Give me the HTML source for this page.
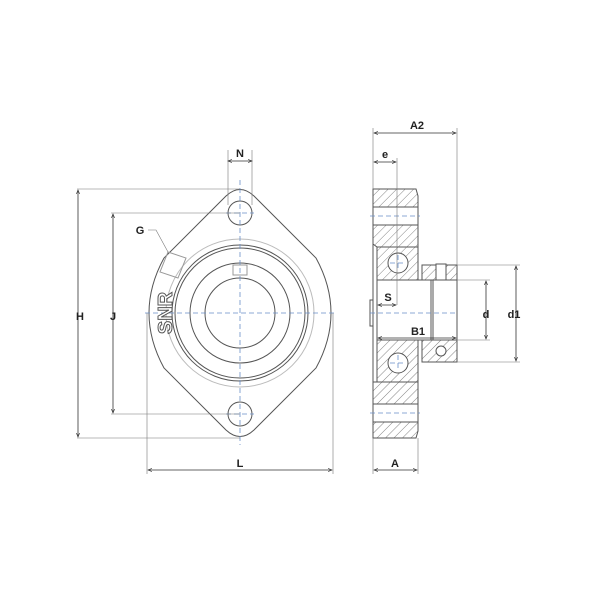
<!DOCTYPE html>
<html><head><meta charset="utf-8"><style>
html,body{margin:0;padding:0;background:#fff;}
svg{display:block;}
text{font-family:"Liberation Sans",sans-serif;font-weight:bold;font-size:11px;fill:#222;}
</style></head><body>
<svg width="600" height="600" viewBox="0 0 600 600" xmlns="http://www.w3.org/2000/svg">
<defs>
<pattern id="h" patternUnits="userSpaceOnUse" width="6" height="6" patternTransform="rotate(45)">
<rect width="6" height="6" fill="#fff"/><line x1="0" y1="0" x2="0" y2="6" stroke="#777" stroke-width="0.9"/>
</pattern>
<marker id="a" markerWidth="6" markerHeight="6" refX="5" refY="3" orient="auto"><path d="M0,1 L5,3 L0,5" fill="none" stroke="#333" stroke-width="0.8"/></marker>
<marker id="b" markerWidth="6" markerHeight="6" refX="1" refY="3" orient="auto"><path d="M6,1 L1,3 L6,5" fill="none" stroke="#333" stroke-width="0.8"/></marker>
</defs>
<g fill="none" stroke="#555" stroke-width="1">
<path d="M226,196 Q240,183 254,196 L316,258 Q346,313 316,368 L254,430 Q240,443 226,430 L164,368 Q134,313 164,258 Z"/>
<circle cx="240" cy="213" r="12"/>
<circle cx="240" cy="414" r="12"/>
<circle cx="240" cy="313" r="74" stroke="#bbb"/>
<circle cx="240" cy="313" r="68"/>
<circle cx="240" cy="313" r="65"/>
<circle cx="240" cy="313" r="50"/>
<circle cx="240" cy="313" r="35"/>
<rect x="233" y="265" width="14" height="10" stroke="#999"/>
<path d="M168,252 L186,258 L178,278 L160,272 Z" stroke="#999"/>
</g>
<g stroke="#6a8fc8" stroke-width="0.8" stroke-dasharray="5,3">
<line x1="145" y1="313" x2="335" y2="313"/>
<line x1="240" y1="180" x2="240" y2="445"/>
<line x1="226" y1="213" x2="254" y2="213"/>
<line x1="226" y1="414" x2="254" y2="414"/>
</g>
<text x="166" y="313" transform="rotate(-90 166 313)" text-anchor="middle" dominant-baseline="central" style="font-size:20px;fill:#fff;stroke:#555;stroke-width:1">SNR</text>
<g stroke="#777" stroke-width="0.6" fill="none">
<line x1="228" y1="150" x2="228" y2="205"/><line x1="252" y1="150" x2="252" y2="205"/>
<line x1="77" y1="189" x2="240" y2="189"/><line x1="77" y1="438" x2="240" y2="438"/>
<line x1="111" y1="213" x2="240" y2="213"/><line x1="111" y1="414" x2="240" y2="414"/>
<line x1="147" y1="313" x2="147" y2="474"/><line x1="333" y1="313" x2="333" y2="474"/>
<path d="M148,230 L156,230 L168,252"/>
</g>
<g stroke="#333" stroke-width="0.8">
<line x1="228" y1="161" x2="252" y2="161" marker-start="url(#b)" marker-end="url(#a)"/>
<line x1="78" y1="190" x2="78" y2="437" marker-start="url(#b)" marker-end="url(#a)"/>
<line x1="113" y1="214" x2="113" y2="413" marker-start="url(#b)" marker-end="url(#a)"/>
<line x1="148" y1="470" x2="332" y2="470" marker-start="url(#b)" marker-end="url(#a)"/>
</g>
<text x="240" y="157" text-anchor="middle">N</text>
<text x="80" y="320" text-anchor="middle">H</text>
<text x="113" y="320" text-anchor="middle">J</text>
<text x="240" y="467" text-anchor="middle">L</text>
<text x="140" y="234" text-anchor="middle">G</text>
<g stroke="#555" stroke-width="1">
<path d="M373,189 L416,189 L418,196 L418,247 L377,247 L373,244 Z" fill="url(#h)"/>
<path d="M373,382 L418,382 L418,431 L416,438 L373,438 Z" fill="url(#h)"/>
<rect x="373" y="207" width="45" height="18" fill="#fff"/>
<rect x="373" y="404" width="45" height="18" fill="#fff"/>
<line x1="373" y1="244" x2="373" y2="382"/>
<line x1="377" y1="247" x2="377" y2="382"/>
<rect x="377" y="247" width="41" height="33" fill="url(#h)"/>
<rect x="377" y="340" width="41" height="42" fill="url(#h)"/>
<rect x="422" y="265" width="35" height="15" fill="url(#h)"/>
<rect x="422" y="340" width="35" height="22" fill="url(#h)"/>
<circle cx="398" cy="263" r="10" fill="#fff"/>
<circle cx="398" cy="363" r="10" fill="#fff"/>
<rect x="436" y="264" width="10" height="16" fill="#fff"/>
<circle cx="441" cy="351" r="5" fill="#fff"/>
<line x1="377" y1="280" x2="457" y2="280"/>
<line x1="377" y1="340" x2="457" y2="340"/>
<line x1="457" y1="265" x2="457" y2="362"/>
<line x1="431" y1="280" x2="431" y2="340"/>
<line x1="433" y1="280" x2="433" y2="340"/>
<rect x="370" y="300" width="3" height="26" fill="#fff"/>
</g>
<g stroke="#6a8fc8" stroke-width="0.8" stroke-dasharray="5,3">
<line x1="370" y1="313" x2="458" y2="313"/>
<line x1="370" y1="216" x2="420" y2="216"/>
<line x1="370" y1="413" x2="420" y2="413"/>
<line x1="390" y1="263" x2="406" y2="263"/><line x1="398" y1="255" x2="398" y2="271"/>
<line x1="390" y1="363" x2="406" y2="363"/><line x1="398" y1="355" x2="398" y2="371"/>
</g>
<g stroke="#777" stroke-width="0.6">
<line x1="373" y1="128" x2="373" y2="189"/><line x1="457" y1="128" x2="457" y2="265"/>
<line x1="397" y1="158" x2="397" y2="305"/>
<line x1="457" y1="265" x2="520" y2="265"/><line x1="457" y1="362" x2="520" y2="362"/>
<line x1="457" y1="280" x2="490" y2="280"/><line x1="457" y1="340" x2="490" y2="340"/>
<line x1="373" y1="438" x2="373" y2="474"/><line x1="418" y1="438" x2="418" y2="474"/>
</g>
<g stroke="#333" stroke-width="0.8">
<line x1="374" y1="133" x2="456" y2="133" marker-start="url(#b)" marker-end="url(#a)"/>
<line x1="374" y1="162" x2="396" y2="162" marker-start="url(#b)" marker-end="url(#a)"/>
<line x1="378" y1="305" x2="396" y2="305" marker-start="url(#b)" marker-end="url(#a)"/>
<line x1="378" y1="338" x2="456" y2="338" marker-start="url(#b)" marker-end="url(#a)"/>
<line x1="486" y1="281" x2="486" y2="339" marker-start="url(#b)" marker-end="url(#a)"/>
<line x1="516" y1="266" x2="516" y2="361" marker-start="url(#b)" marker-end="url(#a)"/>
<line x1="374" y1="470" x2="417" y2="470" marker-start="url(#b)" marker-end="url(#a)"/>
</g>
<text x="417" y="129" text-anchor="middle">A2</text>
<text x="385" y="158" text-anchor="middle">e</text>
<text x="388" y="301" text-anchor="middle">S</text>
<text x="418" y="335" text-anchor="middle">B1</text>
<text x="486" y="318" text-anchor="middle">d</text>
<text x="514" y="318" text-anchor="middle">d1</text>
<text x="395" y="467" text-anchor="middle">A</text>
</svg>
</body></html>
